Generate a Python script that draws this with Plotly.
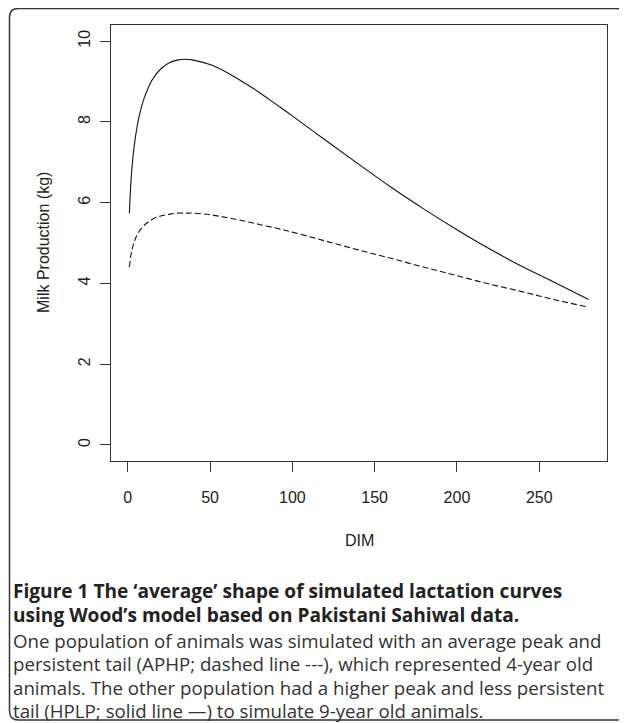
import plotly.graph_objects as go

# Data
dim = [1, 2, 3, 4, 5, 7, 10, 15, 20, 25, 30, 35, 40, 50, 60, 70, 80, 90, 100,
       120, 140, 160, 180, 200, 220, 240, 260, 280]
hplp = [5.74, 6.55, 7.05, 7.42, 7.71, 8.15, 8.59, 9.05, 9.31, 9.46, 9.53, 9.55, 9.53,
        9.42, 9.23, 8.99, 8.73, 8.44, 8.15, 7.55, 6.96, 6.38, 5.84, 5.33, 4.85,
        4.41, 4.01, 3.60]
aphp = [4.40, 4.71, 4.90, 5.03, 5.14, 5.29, 5.44, 5.59, 5.67, 5.71, 5.74, 5.74, 5.74,
        5.70, 5.63, 5.55, 5.46, 5.37, 5.27, 5.05, 4.83, 4.62, 4.40, 4.19, 3.98,
        3.79, 3.59, 3.41]
x_ticks = [0, 50, 100, 150, 200, 250]
y_ticks = [0, 2, 4, 6, 8, 10]

OFF = 8  # page body margin
W, H = 627 - OFF, 723 - OFF
L, R, T, B = 111 - OFF, 607 - OFF, 25 - OFF, 461 - OFF  # plot box in figure pixels


def px(xp):
    xp -= OFF
    return (xp - L) / (R - L)


def py(yp):
    yp -= OFF
    return (B - yp) / (B - T)


AX_FONT = dict(family="Liberation Sans, Arial", size=16, color="#222")

fig = go.Figure()
fig.add_trace(go.Scatter(x=dim, y=hplp, mode="lines", line=dict(color="#111", width=1.1),
                         line_shape="spline", showlegend=False))
fig.add_trace(go.Scatter(x=dim, y=aphp, mode="lines",
                         line=dict(color="#111", width=1.1, dash="6px,3px"),
                         line_shape="spline", showlegend=False))

axis_common = dict(showline=True, mirror=True, linecolor="#333", linewidth=1,
                   ticks="outside", ticklen=10, tickcolor="#333", tickwidth=1,
                   showgrid=False, zeroline=False, tickfont=AX_FONT)

fig.update_xaxes(range=[-10.16, 291.16], tickvals=x_ticks, ticklabelstandoff=12, **axis_common)
fig.update_yaxes(range=[-0.4, 10.4], tickvals=y_ticks, tickangle=-90, ticklabelstandoff=4,
                 **axis_common)

annotations = [
    dict(text="DIM", x=px(359), y=py(540), xref="paper", yref="paper", showarrow=False,
         font=AX_FONT, xanchor="center", yanchor="middle"),
    dict(text="Milk Production (kg)", x=px(43), y=py(243), xref="paper", yref="paper",
         showarrow=False, textangle=-90, font=AX_FONT,
         xanchor="center", yanchor="middle"),
]

bold_lines = ["Figure 1 The \u2018average\u2019 shape of simulated lactation curves",
              "using Wood\u2019s model based on Pakistani Sahiwal data."]
reg_lines = ["One population of animals was simulated with an average peak and",
             "persistent tail (APHP; dashed line ---), which represented 4-year old",
             "animals. The other population had a higher peak and less persistent",
             "tail (HPLP; solid line \u2014) to simulate 9-year old animals."]

bold_text = "<br>".join(f"<span style='font-size:19.1px'><b>{t}</b></span>" for t in bold_lines)
reg_text = "<br>".join(f"<span style='font-size:18.7px'>{t}</span>" for t in reg_lines)

annotations.append(dict(text=bold_text, x=px(11), y=py(602.5), xref="paper", yref="paper",
                        showarrow=False, xanchor="left", yanchor="middle", align="left",
                        font=dict(family="Open Sans", size=18.3, color="#222")))
annotations.append(dict(text=reg_text, x=px(11), y=py(675), xref="paper", yref="paper",
                        showarrow=False, xanchor="left", yanchor="middle", align="left",
                        font=dict(family="Open Sans", size=17.9, color="#333")))

# Outer rounded frame (page pixel coordinates)
x0, y0, x1, y1, r = 9.5, 8.5, 625, 720, 9
path = (f"M {px(x0+r)},{py(y0)} L {px(x1-r)},{py(y0)} Q {px(x1)},{py(y0)} {px(x1)},{py(y0+r)} "
        f"L {px(x1)},{py(y1-r)} Q {px(x1)},{py(y1)} {px(x1-r)},{py(y1)} "
        f"L {px(x0+r)},{py(y1)} Q {px(x0)},{py(y1)} {px(x0)},{py(y1-r)} "
        f"L {px(x0)},{py(y0+r)} Q {px(x0)},{py(y0)} {px(x0+r)},{py(y0)} Z")

fig.update_layout(
    width=W, height=H,
    margin=dict(l=L, r=W - R, t=T, b=H - B),
    paper_bgcolor="white", plot_bgcolor="white",
    annotations=annotations,
    shapes=[dict(type="path", path=path, xref="paper", yref="paper",
                 line=dict(color="#333", width=1.5), layer="above")],
)

fig.write_html("out.html")
